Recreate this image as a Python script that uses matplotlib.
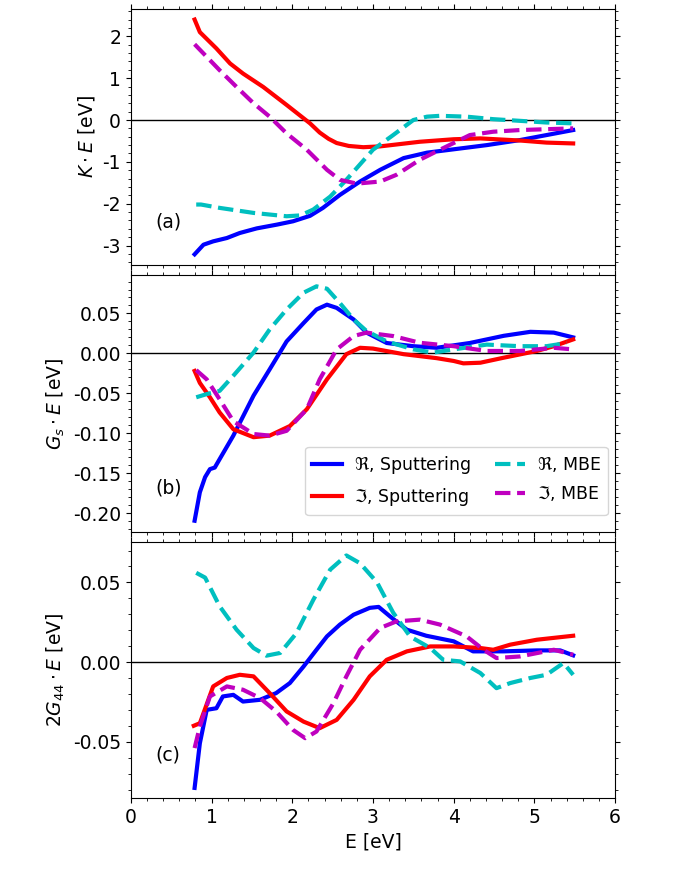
import numpy as np
import matplotlib.pyplot as plt
from matplotlib.ticker import AutoMinorLocator, MultipleLocator

# ---------------- digitised curves ----------------
# panel (a): K*E
a_re_sp_x = [0.79, 0.90, 1.02, 1.19, 1.35, 1.56, 1.81, 2.01, 2.22, 2.38, 2.59, 2.84, 3.09, 3.38, 3.67, 4.00, 4.41, 4.82, 5.15, 5.48]
a_re_sp_y = [-3.21, -2.98, -2.90, -2.82, -2.70, -2.59, -2.50, -2.42, -2.29, -2.10, -1.79, -1.47, -1.19, -0.91, -0.78, -0.70, -0.60, -0.48, -0.36, -0.24]
a_im_sp_x = [0.79, 0.855, 1.06, 1.23, 1.39, 1.64, 1.93, 2.22, 2.34, 2.45, 2.55, 2.70, 2.88, 3.09, 3.58, 4.00, 4.33, 4.82, 5.15, 5.48]
a_im_sp_y = [2.40, 2.10, 1.71, 1.35, 1.11, 0.79, 0.36, -0.08, -0.30, -0.45, -0.55, -0.62, -0.65, -0.63, -0.52, -0.46, -0.44, -0.49, -0.54, -0.56]
a_re_mbe_x = [0.81, 0.87, 1.10, 1.52, 1.93, 2.10, 2.26, 2.47, 2.67, 3.00, 3.25, 3.50, 3.67, 3.83, 4.16, 4.49, 4.82, 5.15, 5.48]
a_re_mbe_y = [-2.02, -2.02, -2.10, -2.22, -2.30, -2.28, -2.14, -1.83, -1.43, -0.71, -0.36, 0.00, 0.08, 0.10, 0.08, 0.02, -0.02, -0.06, -0.08]
a_im_mbe_x = [0.79, 1.10, 1.31, 1.52, 1.72, 1.93, 2.18, 2.43, 2.59, 2.80, 3.09, 3.29, 3.58, 3.83, 4.20, 4.49, 4.82, 5.48]
a_im_mbe_y = [1.81, 1.19, 0.79, 0.40, 0.08, -0.32, -0.71, -1.19, -1.43, -1.52, -1.47, -1.31, -0.95, -0.71, -0.36, -0.28, -0.24, -0.20]

# panel (b): Gs*E
b_re_sp_x = [0.79, 0.855, 0.92, 0.98, 1.04, 1.10, 1.27, 1.52, 1.72, 1.93, 2.14, 2.30, 2.43, 2.55, 2.76, 2.92, 3.17, 3.50, 3.79, 4.20, 4.62, 4.95, 5.24, 5.48]
b_re_sp_y = [-0.2096, -0.174, -0.155, -0.145, -0.143, -0.1325, -0.103, -0.053, -0.020, 0.015, 0.038, 0.055, 0.061, 0.057, 0.0425, 0.026, 0.013, 0.009, 0.007, 0.013, 0.022, 0.027, 0.026, 0.020]
b_im_sp_x = [0.79, 0.855, 0.98, 1.10, 1.27, 1.52, 1.72, 1.97, 2.18, 2.43, 2.67, 2.84, 3.00, 3.38, 3.79, 4.00, 4.12, 4.33, 4.62, 5.03, 5.24, 5.48]
b_im_sp_y = [-0.022, -0.037, -0.055, -0.074, -0.095, -0.105, -0.103, -0.091, -0.070, -0.0325, -0.001, 0.007, 0.006, -0.001, -0.006, -0.0095, -0.0125, -0.0117, -0.0054, 0.003, 0.009, 0.0175]
b_re_mbe_x = [0.81, 0.94, 1.10, 1.27, 1.52, 1.72, 1.93, 2.14, 2.30, 2.43, 2.59, 2.76, 2.92, 3.17, 3.50, 3.75, 4.00, 4.41, 4.82, 5.15, 5.40]
b_re_mbe_y = [-0.055, -0.051, -0.047, -0.028, 0.001, 0.030, 0.055, 0.076, 0.084, 0.081, 0.063, 0.0425, 0.028, 0.015, 0.005, 0.001, 0.005, 0.011, 0.009, 0.009, 0.013]
b_im_mbe_x = [0.81, 0.94, 1.10, 1.27, 1.52, 1.72, 1.93, 2.18, 2.34, 2.55, 2.76, 2.92, 3.25, 3.58, 4.00, 4.41, 4.82, 5.24, 5.48]
b_im_mbe_y = [-0.021, -0.0325, -0.0575, -0.085, -0.101, -0.103, -0.097, -0.070, -0.0325, 0.005, 0.0217, 0.026, 0.0217, 0.0133, 0.009, 0.003, 0.003, 0.007, 0.005]

# panel (c): 2*G44*E
c_re_sp_x = [0.79, 0.855, 0.94, 1.06, 1.14, 1.27, 1.39, 1.60, 1.80, 1.97, 2.14, 2.30, 2.43, 2.59, 2.76, 2.96, 3.07, 3.21, 3.42, 3.66, 4.00, 4.24, 4.62, 5.03, 5.32, 5.48]
c_re_sp_y = [-0.079, -0.051, -0.030, -0.029, -0.0216, -0.0206, -0.0248, -0.0237, -0.0195, -0.0132, -0.0028, 0.0077, 0.0161, 0.0235, 0.0297, 0.034, 0.0346, 0.0287, 0.0203, 0.0165, 0.013, 0.0067, 0.0067, 0.0073, 0.0073, 0.0042]
c_im_sp_x = [0.78, 0.855, 1.02, 1.19, 1.35, 1.52, 1.72, 1.93, 2.14, 2.34, 2.55, 2.76, 2.96, 3.17, 3.42, 3.71, 4.00, 4.33, 4.49, 4.70, 5.03, 5.48]
c_im_sp_y = [-0.040, -0.0384, -0.0153, -0.010, -0.008, -0.009, -0.0195, -0.031, -0.0374, -0.0415, -0.0363, -0.0237, -0.009, 0.0014, 0.0067, 0.0098, 0.0098, 0.0088, 0.0077, 0.0109, 0.014, 0.0165]
c_re_mbe_x = [0.81, 0.92, 1.10, 1.31, 1.52, 1.68, 1.85, 2.05, 2.26, 2.47, 2.67, 2.84, 3.05, 3.25, 3.46, 3.71, 3.87, 4.08, 4.33, 4.53, 4.70, 4.95, 5.15, 5.36, 5.48]
c_re_mbe_y = [0.056, 0.053, 0.035, 0.0203, 0.0088, 0.004, 0.0057, 0.018, 0.039, 0.058, 0.0669, 0.062, 0.050, 0.031, 0.016, 0.0088, 0.0014, 0.0004, -0.0069, -0.0164, -0.0132, -0.010, -0.008, -0.0006, -0.008]
c_im_mbe_x = [0.79, 0.855, 0.98, 1.19, 1.39, 1.60, 1.80, 2.01, 2.16, 2.30, 2.51, 2.67, 2.84, 3.09, 3.29, 3.58, 3.83, 4.16, 4.37, 4.53, 4.82, 5.24, 5.48]
c_im_mbe_y = [-0.054, -0.0405, -0.0216, -0.0153, -0.0174, -0.0226, -0.031, -0.0426, -0.0478, -0.0436, -0.0258, -0.009, 0.0077, 0.0214, 0.0255, 0.0266, 0.0235, 0.0161, 0.0077, 0.0025, 0.0035, 0.0077, 0.0046]

panels = [
    (a_re_sp_x, a_re_sp_y, a_im_sp_x, a_im_sp_y, a_re_mbe_x, a_re_mbe_y, a_im_mbe_x, a_im_mbe_y),
    (b_re_sp_x, b_re_sp_y, b_im_sp_x, b_im_sp_y, b_re_mbe_x, b_re_mbe_y, b_im_mbe_x, b_im_mbe_y),
    (c_re_sp_x, c_re_sp_y, c_im_sp_x, c_im_sp_y, c_re_mbe_x, c_re_mbe_y, c_im_mbe_x, c_im_mbe_y),
]
ylabels = [r'$K\cdot E$ [eV]', r'$G_s\cdot E$ [eV]', r'$2G_{44}\cdot E$ [eV]']
tags = ['(a)', '(b)', '(c)']
ylims = [(-3.47, 2.66), (-0.2234, 0.0979), (-0.0855, 0.0755)]
ymajor = [1, 0.05, 0.05]

plt.rcParams['font.size'] = 13.5

# --------------- make figure -----------------------
fig, axs = plt.subplots(3, 1, sharex=True, figsize=(6.85, 8.69), dpi=100)
fig.subplots_adjust(left=0.191, right=0.898, top=0.990, bottom=0.0814, hspace=0.039)

for ii, ax in enumerate(axs):
    rsx, rsy, isx, isy, rmx, rmy, imx, imy = panels[ii]
    ax.axhline(0, color='k', lw=1)
    ax.plot(rsx, rsy, 'b-', lw=3, label=r'$\Re$, Sputtering')
    ax.plot(isx, isy, 'r-', lw=3, label=r'$\Im$, Sputtering')
    ax.plot(rmx, rmy, 'c--', lw=3, label=r'$\Re$, MBE')
    ax.plot(imx, imy, 'm--', lw=3, label=r'$\Im$, MBE')
    ax.set_ylim(ylims[ii])
    ax.set_xlim(0, 6)
    ax.yaxis.set_major_locator(MultipleLocator(ymajor[ii]))
    ax.xaxis.set_minor_locator(AutoMinorLocator())
    ax.yaxis.set_minor_locator(AutoMinorLocator())
    ax.tick_params(which='both', top=True, right=True, direction='out')
    ax.set_ylabel(ylabels[ii])
    ax.text(0.05, 0.17, tags[ii], transform=ax.transAxes, va='center')

axs[0].yaxis.set_major_formatter(plt.FormatStrFormatter('%g'))
axs[1].yaxis.set_major_formatter(plt.FormatStrFormatter('%.2f'))
axs[2].yaxis.set_major_formatter(plt.FormatStrFormatter('%.2f'))
axs[1].legend(ncol=2, loc='lower right', bbox_to_anchor=(0.985, 0.065), borderaxespad=0,
              fontsize=12.5, handlelength=1.7, handletextpad=0.7, columnspacing=1.4,
              labelspacing=0.6)
axs[2].set_xlabel('E [eV]')

fig.savefig('out.png', dpi=100)
